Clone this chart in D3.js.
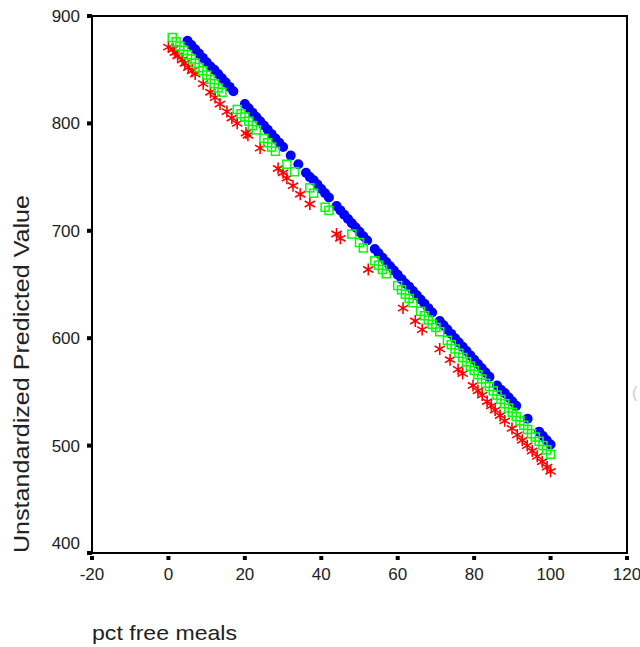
<!DOCTYPE html>
<html>
<head>
<meta charset="utf-8">
<script src="https://cdn.jsdelivr.net/npm/d3@7"></script>
<style>
  body { margin: 0; background: #fff; }
  text { font-family: "Liberation Sans", Arial, sans-serif; fill: #222; }
</style>
</head>
<body>
<div id="chart"></div>
<script>
// tick values of both axes
const xTicks = [-20, 0, 20, 40, 60, 80, 100, 120];
const yTicks = [400, 500, 600, 700, 800, 900];

// blue group (filled dots): pct free meals, predicted value
const blueMeals = [5, 6, 7, 8, 9, 10, 11, 12, 13, 14, 15, 16, 17,
  20, 21, 22, 23, 24, 25, 26, 27, 28, 29, 30, 32, 34, 36, 37, 38, 39, 40, 41, 42,
  44, 45, 46, 47, 48, 49, 50, 51, 52, 54, 55, 56, 57, 58, 59, 60, 61, 62, 63, 64,
  65, 66, 67, 68, 69, 71, 72, 73, 74, 75, 76, 77, 78, 79, 80, 81, 82, 83, 84,
  86, 87, 88, 89, 90, 91, 94, 97, 98, 99, 100];
const bluePred = [877, 873, 869, 865, 861, 857, 853, 850, 846, 842, 838, 834, 830,
  818, 814, 810, 806, 802, 798, 794, 790, 786, 782, 778, 770, 762, 754, 750, 747, 743, 739, 735, 731,
  723, 719, 715, 711, 707, 703, 699, 695, 691, 683, 679, 675, 671, 667, 663, 659, 655, 651, 648, 644,
  640, 636, 632, 628, 624, 616, 612, 608, 604, 600, 596, 592, 588, 584, 580, 576, 572, 568, 564,
  556, 552, 549, 545, 541, 537, 525, 513, 509, 505, 501];

// green group (open squares)
const greenMeals = [1, 2, 3, 4, 5, 6, 7, 8, 9, 10, 11, 12, 13, 14,
  18, 19, 20, 21, 22, 23, 25, 26, 27, 28, 31, 33, 37, 38, 41, 42, 48, 50, 51,
  54, 55, 56, 57, 60, 61, 62, 63, 64, 66, 67, 68, 69, 70, 71, 73, 74, 75, 76, 77,
  78, 79, 80, 81, 82, 83, 84, 85, 86, 87, 88, 89, 90, 91, 92, 93, 94, 95, 96, 97,
  98, 99, 100];
const greenPred = [880, 876, 872, 868, 864, 860, 856, 852, 849, 845, 841, 837, 833, 829,
  813, 809, 806, 802, 798, 794, 786, 782, 778, 774, 762, 755, 740, 735, 722, 719, 697, 689, 684,
  672, 668, 664, 660, 649, 645, 641, 637, 633, 625, 621, 617, 613, 610, 606, 598, 594, 590, 586, 582,
  578, 574, 570, 566, 562, 558, 555, 551, 547, 543, 539, 535, 531, 527, 523, 519, 515, 511, 508, 504,
  500, 496, 492];

// red group (asterisks)
const redMeals = [0, 1.2, 1.7, 2.4, 3.6, 4.3, 5.2, 6.2, 7, 9.1, 11, 12.2, 13.5, 15.3, 16.6, 18,
  20.3, 20.8, 24, 28.7, 30, 31, 32.6, 34.5, 37, 44, 45, 52.3, 61.4, 64.6, 66.4, 71, 73.7,
  75.8, 77, 79.7, 81, 82.1, 83.4, 84.5, 85.5, 86.8, 88, 89.9, 91.3, 92.6, 93.9, 95.2, 96.5,
  97.8, 99.1, 100];
const redPred = [871, 869, 866, 863, 859, 856, 852, 849, 846, 837, 829, 824, 818, 811, 805, 800,
  791, 789, 777, 758, 754, 749, 742, 734, 725, 697, 693, 664, 628, 616, 608, 590, 580,
  571, 567, 556, 551, 547, 541, 537, 533, 528, 523, 516, 510, 505, 500, 495, 490,
  485, 480, 476];

const W = 640, H = 647;
const plot = {left: 92, right: 627, top: 16, bottom: 553};

const svg = d3.select("#chart").append("svg")
  .attr("width", W).attr("height", H);

const x = d3.scaleLinear().domain([-20, 120]).range([plot.left, plot.right]);
const y = d3.scaleLinear().domain([400, 900]).range([plot.bottom, plot.top]);

// plot frame
svg.append("rect")
  .attr("x", plot.left).attr("y", plot.top)
  .attr("width", plot.right - plot.left).attr("height", plot.bottom - plot.top)
  .attr("fill", "none").attr("stroke", "#000").attr("stroke-width", 2);

// y ticks: small squares just left of the frame
svg.selectAll(".ytick").data(yTicks).enter().append("rect")
  .attr("x", plot.left - 5).attr("y", d => y(d) - 2)
  .attr("width", 5).attr("height", 4).attr("fill", "#000");
svg.selectAll(".ylab").data(yTicks).enter().append("text")
  .attr("x", 80)
  .attr("y", d => d === 400 ? y(d) - 4 : y(d) + 6)
  .attr("text-anchor", "end")
  .attr("font-size", 17)
  .text(d => d);

// x ticks: detached squares below the frame
svg.selectAll(".xtick").data(xTicks).enter().append("rect")
  .attr("x", d => x(d) - 2).attr("y", plot.bottom + 3)
  .attr("width", 4).attr("height", 4).attr("fill", "#000");
svg.selectAll(".xlab").data(xTicks).enter().append("text")
  .attr("x", d => x(d)).attr("y", 580)
  .attr("text-anchor", "middle")
  .attr("font-size", 17)
  .text(d => d);

// axis titles
svg.append("text")
  .attr("transform", `translate(29, ${plot.bottom}) rotate(-90)`)
  .attr("font-size", 22)
  .attr("textLength", 358).attr("lengthAdjust", "spacingAndGlyphs")
  .text("Unstandardized Predicted Value");
svg.append("text")
  .attr("x", plot.left).attr("y", 640)
  .attr("font-size", 21)
  .attr("textLength", 145).attr("lengthAdjust", "spacingAndGlyphs")
  .text("pct free meals");

// faint legend remnant at the right edge
svg.append("text")
  .attr("x", 632).attr("y", 398)
  .attr("font-size", 16).style("fill", "#ccc")
  .text("(");

// blue dots
svg.append("g").selectAll("circle").data(d3.range(blueMeals.length)).enter().append("circle")
  .attr("cx", i => x(blueMeals[i])).attr("cy", i => y(bluePred[i]))
  .attr("r", 5).attr("fill", "#0000ff");

// red asterisks
const star = d3.symbol().type(d3.symbolAsterisk).size(100);
svg.append("g").selectAll("path").data(d3.range(redMeals.length)).enter().append("path")
  .attr("transform", i => `translate(${x(redMeals[i])},${y(redPred[i])})`)
  .attr("d", star)
  .attr("fill", "none").attr("stroke", "#ff0000").attr("stroke-width", 1.6);

// green open squares
svg.append("g").selectAll("rect").data(d3.range(greenMeals.length)).enter().append("rect")
  .attr("x", i => x(greenMeals[i]) - 4).attr("y", i => y(greenPred[i]) - 4)
  .attr("width", 8).attr("height", 8)
  .attr("fill", "none").attr("stroke", "#00ff00").attr("stroke-width", 1.5);
</script>
</body>
</html>
